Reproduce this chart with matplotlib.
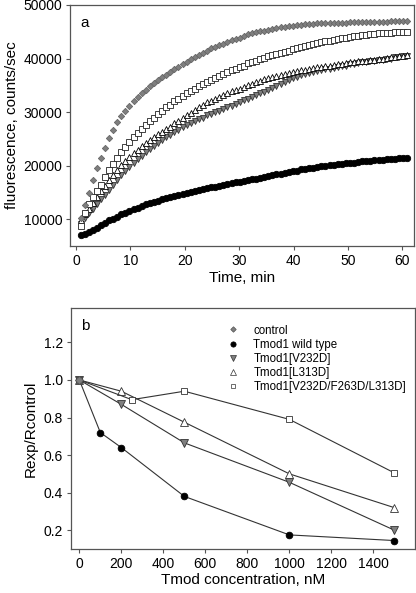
import matplotlib
matplotlib.use("Agg")
import matplotlib.pyplot as plt
from matplotlib.lines import Line2D

plt.rcParams['font.family'] = ['Liberation Sans', 'DejaVu Sans']

# ---------------- Panel a data (time course) ----------------
time_min = [0.85, 1.60, 2.35, 3.10, 3.85, 4.60, 5.35, 6.10, 6.85, 7.60,
            8.35, 9.10, 9.85, 10.60, 11.35, 12.10, 12.85, 13.60, 14.35, 15.10,
            15.85, 16.60, 17.35, 18.10, 18.85, 19.60, 20.35, 21.10, 21.85, 22.60,
            23.35, 24.10, 24.85, 25.60, 26.35, 27.10, 27.85, 28.60, 29.35, 30.10,
            30.85, 31.60, 32.35, 33.10, 33.85, 34.60, 35.35, 36.10, 36.85, 37.60,
            38.35, 39.10, 39.85, 40.60, 41.35, 42.10, 42.85, 43.60, 44.35, 45.10,
            45.85, 46.60, 47.35, 48.10, 48.85, 49.60, 50.35, 51.10, 51.85, 52.60,
            53.35, 54.10, 54.85, 55.60, 56.35, 57.10, 57.85, 58.60, 59.35, 60.10,
            60.85]

fl_control = [10200, 12700, 15000, 17300, 19500, 21500, 23300, 25100, 26700, 28100,
              29300, 30300, 31200, 32100, 32800, 33500, 34200, 34800, 35400, 36000,
              36500, 37000, 37500, 38000, 38500, 39000, 39400, 39900, 40300, 40700,
              41100, 41500, 41900, 42200, 42500, 42800, 43100, 43400, 43700, 43900,
              44200, 44500, 44700, 44900, 45100, 45200, 45400, 45500, 45700, 45800,
              45900, 46000, 46100, 46200, 46300, 46400, 46500, 46500, 46600, 46600,
              46700, 46700, 46700, 46700, 46700, 46700, 46800, 46800, 46800, 46800,
              46800, 46900, 46900, 46900, 46900, 46900, 47000, 47000, 47000, 47000,
              47000]

fl_wt = [7000, 7200, 7600, 8000, 8400, 8900, 9300, 9800, 10100, 10500,
         10900, 11200, 11600, 11900, 12200, 12500, 12800, 13100, 13300, 13500,
         13800, 14000, 14200, 14300, 14500, 14700, 14900, 15100, 15300, 15400,
         15600, 15800, 16000, 16100, 16300, 16400, 16600, 16700, 16900, 17000,
         17200, 17300, 17500, 17600, 17800, 17900, 18100, 18200, 18400, 18500,
         18700, 18800, 19000, 19100, 19300, 19400, 19500, 19600, 19800, 19900,
         20000, 20100, 20200, 20300, 20400, 20500, 20500, 20600, 20700, 20800,
         20800, 20900, 21000, 21100, 21100, 21200, 21300, 21300, 21400, 21400,
         21500]

fl_v232d = [9200, 10300, 11200, 12000, 12800, 13700, 14600, 15500, 16400, 17300,
            18200, 19000, 19800, 20500, 21200, 21900, 22500, 23100, 23700, 24300,
            24800, 25300, 25800, 26300, 26700, 27200, 27600, 28000, 28300, 28700,
            29000, 29400, 29700, 30000, 30300, 30600, 30900, 31200, 31500, 31800,
            32200, 32500, 32800, 33200, 33500, 33800, 34100, 34500, 34900, 35300,
            35700, 36000, 36300, 36600, 36900, 37100, 37300, 37500, 37700, 37800,
            38000, 38100, 38300, 38400, 38600, 38700, 38900, 39000, 39100, 39300,
            39400, 39500, 39600, 39700, 39800, 39900, 40000, 40200, 40300, 40400,
            40500]

fl_l313d = [9800, 10900, 12000, 13000, 14200, 15200, 16300, 17300, 18300, 19200,
            20100, 20900, 21700, 22300, 23000, 23700, 24300, 24800, 25300, 25900,
            26300, 26800, 27300, 27900, 28400, 28900, 29400, 29900, 30400, 30900,
            31300, 31800, 32100, 32500, 32900, 33200, 33500, 33900, 34200, 34400,
            34700, 35000, 35300, 35600, 35800, 36100, 36300, 36500, 36700, 36900,
            37100, 37300, 37500, 37600, 37800, 37900, 38100, 38200, 38400, 38500,
            38600, 38700, 38800, 38900, 39000, 39100, 39300, 39400, 39500, 39600,
            39600, 39700, 39800, 39900, 40000, 40100, 40200, 40300, 40400, 40500,
            40600]

fl_triple = [8700, 11200, 12900, 14100, 15300, 16400, 17900, 19200, 20400, 21400,
             22500, 23500, 24400, 25300, 26100, 26900, 27600, 28300, 29000, 29700,
             30300, 30900, 31400, 32000, 32500, 33000, 33500, 34000, 34400, 34800,
             35200, 35600, 36000, 36300, 36700, 37100, 37400, 37800, 38100, 38400,
             38700, 39100, 39300, 39600, 39900, 40100, 40400, 40600, 40900, 41100,
             41300, 41500, 41800, 42000, 42100, 42300, 42500, 42700, 42900, 43000,
             43200, 43300, 43500, 43600, 43800, 43900, 44100, 44200, 44300, 44400,
             44400, 44500, 44600, 44700, 44700, 44800, 44800, 44900, 44900, 45000,
             45000]

# ---------------- Panel b data (dose response) ----------------
conc_control = [0]
r_control = [1.0]
conc_wt = [0, 100, 200, 500, 1000, 1500]
r_wt = [1.0, 0.72, 0.64, 0.38, 0.175, 0.145]
conc_v232d = [0, 200, 500, 1000, 1500]
r_v232d = [1.0, 0.87, 0.665, 0.455, 0.2]
conc_l313d = [0, 200, 500, 1000, 1500]
r_l313d = [1.0, 0.94, 0.775, 0.5, 0.32]
conc_triple = [0, 250, 500, 1000, 1500]
r_triple = [1.0, 0.895, 0.94, 0.79, 0.505]

legend_labels = ["control", "Tmod1 wild type", "Tmod1[V232D]",
                 "Tmod1[L313D]", "Tmod1[V232D/F263D/L313D]"]

GRAY = '#7f7f7f'
DARK = '#333333'
SPINE = '#555555'

fig = plt.figure(figsize=(4.16, 5.93), dpi=100)

def style_axes(ax):
    for s in ax.spines.values():
        s.set_color(SPINE)
        s.set_linewidth(0.9)
    ax.tick_params(direction='out', length=3, width=0.8, color=SPINE,
                   labelsize=10, pad=2.5)

# ---------------- Panel a ----------------
ax1 = fig.add_axes([0.168, 0.585, 0.827, 0.4066])
style_axes(ax1)
mew = 0.6
ax1.plot(time_min, fl_wt, linestyle='none', marker='o', ms=4.6,
         mfc='black', mec='black', mew=mew, zorder=3)
ax1.plot(time_min, fl_v232d, linestyle='none', marker='v', ms=4.6,
         mfc=GRAY, mec=DARK, mew=mew, zorder=3)
ax1.plot(time_min, fl_l313d, linestyle='none', marker='^', ms=4.6,
         mfc='white', mec='black', mew=mew, zorder=3)
ax1.plot(time_min, fl_triple, linestyle='none', marker='s', ms=4.2,
         mfc='white', mec='#222222', mew=mew, zorder=3)
ax1.plot(time_min, fl_control, linestyle='none', marker='D', ms=3.2,
         mfc=GRAY, mec='#666666', mew=mew, zorder=3)
ax1.set_xlim(-1.1, 62.1)
ax1.set_ylim(5000, 50000)
ax1.set_xticks([0, 10, 20, 30, 40, 50, 60])
ax1.set_yticks([10000, 20000, 30000, 40000, 50000])
ax1.set_xlabel("Time, min", fontsize=11, labelpad=2)
ax1.set_ylabel("fluorescence, counts/sec", fontsize=11, labelpad=3)
ax1.text(0.03, 0.955, "a", transform=ax1.transAxes, fontsize=11,
         ha='left', va='top')

# ---------------- Panel b ----------------
ax2 = fig.add_axes([0.170, 0.0742, 0.8276, 0.4064])
style_axes(ax2)
lw = 0.8
ax2.plot(conc_wt, r_wt, color=DARK, lw=lw, marker='o', ms=4.8,
         mfc='black', mec='black', mew=mew, zorder=3)
ax2.plot(conc_v232d, r_v232d, color=DARK, lw=lw, marker='v', ms=5.2,
         mfc=GRAY, mec=DARK, mew=mew, zorder=3)
ax2.plot(conc_l313d, r_l313d, color=DARK, lw=lw, marker='^', ms=5.2,
         mfc='white', mec=DARK, mew=mew, zorder=3)
ax2.plot(conc_triple, r_triple, color=DARK, lw=lw, marker='s', ms=4.6,
         mfc='white', mec=DARK, mew=mew, zorder=3)
ax2.plot(conc_control, r_control, linestyle='none', marker='D', ms=3.8,
         mfc=GRAY, mec='#555555', mew=mew, zorder=4)
ax2.set_xlim(-41, 1598)
ax2.set_ylim(0.1, 1.383)
ax2.set_xticks([0, 200, 400, 600, 800, 1000, 1200, 1400])
ax2.set_yticks([0.2, 0.4, 0.6, 0.8, 1.0, 1.2])
ax2.set_yticklabels(["0.2", "0.4", "0.6", "0.8", "1.0", "1.2"])
ax2.set_xlabel("Tmod concentration, nM", fontsize=11, labelpad=2)
ax2.set_ylabel("Rexp/Rcontrol", fontsize=11, labelpad=4)
ax2.text(0.03, 0.955, "b", transform=ax2.transAxes, fontsize=11,
         ha='left', va='top')

handles = [
    Line2D([], [], linestyle='none', marker='D', ms=2.8, mfc=GRAY, mec='#555555', mew=0.5),
    Line2D([], [], linestyle='none', marker='o', ms=3.8, mfc='black', mec='black', mew=0.5),
    Line2D([], [], linestyle='none', marker='v', ms=3.8, mfc=GRAY, mec=DARK, mew=0.5),
    Line2D([], [], linestyle='none', marker='^', ms=3.8, mfc='white', mec=DARK, mew=0.5),
    Line2D([], [], linestyle='none', marker='s', ms=3.4, mfc='white', mec=DARK, mew=0.5),
]
leg = ax2.legend(handles, legend_labels, loc='upper left',
                 bbox_to_anchor=(0.43, 0.965), frameon=False, fontsize=8.3,
                 handlelength=1.0, handletextpad=1.3, labelspacing=0.18,
                 borderpad=0.2)

fig.savefig("out.png", dpi=100)
